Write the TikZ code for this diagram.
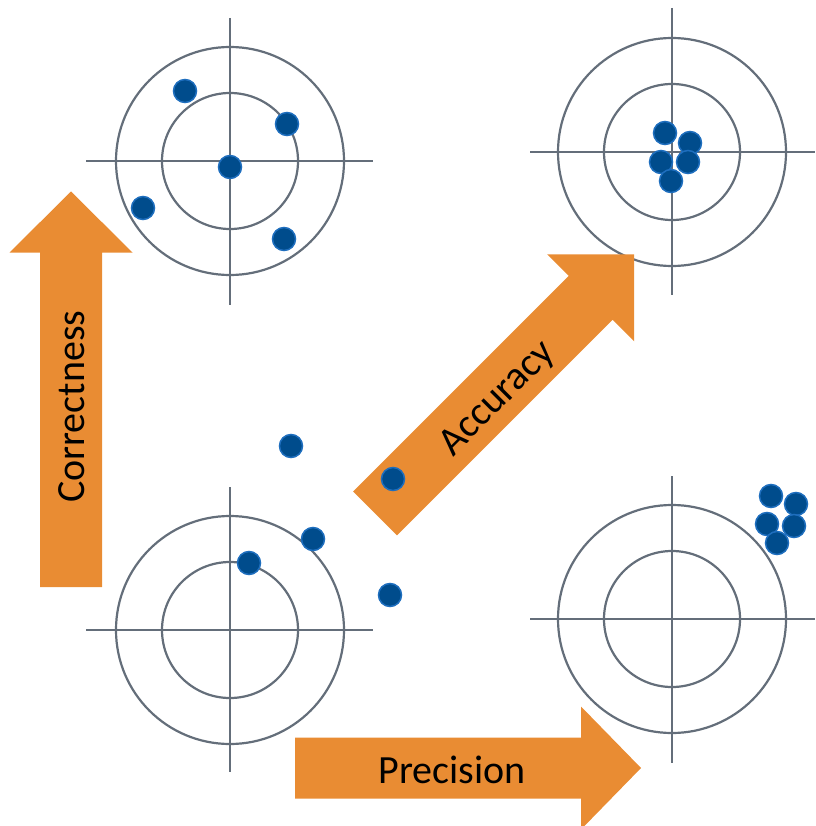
\documentclass[tikz,border=0pt]{standalone}
\usepackage{fontspec}
\setmainfont{Carlito}
\definecolor{arr}{RGB}{233,140,51}
\definecolor{dotfill}{RGB}{0,76,140}
\definecolor{dotedge}{RGB}{30,110,190}
\definecolor{ring}{RGB}{100,110,122}
\begin{document}
\begin{tikzpicture}[x=1pt,y=-1pt,
  ringline/.style={draw=ring, line width=2.2pt},
  hair/.style={draw=ring, line width=2.4pt},
  shot/.style={circle, fill=dotfill, draw=dotedge, line width=1.5pt, minimum size=23pt, inner sep=0pt},
  arrowbody/.style={fill=arr},
  lbl/.style={font=\fontsize{40}{48}\selectfont, text=black, inner sep=0pt}]
\useasboundingbox (0,0) rectangle (815,826);

% targets
\foreach \n/\cx/\cy/\hl/\hr/\vt/\vb in {tl/230/161/86/373/18/305, tr/672/152/530/815/8/295, bl/230/630/86/373/487/772, br/672/619/530/815/476/763}{
  \coordinate (\n-c) at (\cx,\cy);
  \coordinate (\n-l) at (\hl,\cy);
  \coordinate (\n-r) at (\hr,\cy);
  \coordinate (\n-t) at (\cx,\vt);
  \coordinate (\n-b) at (\cx,\vb);
  \draw[ringline] (\n-c) circle[radius=114];
  \draw[ringline] (\n-c) circle[radius=68];
  \draw[hair] (\n-l) -- (\n-r);
  \draw[hair] (\n-t) -- (\n-b);
}

% arrows
\fill[arrowbody] (40,587) -- (40,252.5) -- (9.5,252.5) -- (71,191.5) -- (132.5,252.5) -- (102,252.5) -- (102,587) -- cycle;
\node[lbl, rotate=90] (correctness) at (71.5,406.7) {Correctness};

\fill[arrowbody] (353.1,491.6) -- (396.9,535.4) -- (612.6,319.7) -- (634.2,341.3) -- (634.2,254.3) -- (547.2,254.3) -- (568.8,275.9) -- cycle;
\node[lbl, rotate=45] (accuracy) at (498,399) {Accuracy};

\fill[arrowbody] (295,737.5) -- (581,737.5) -- (581,706.5) -- (641,768) -- (581,829.5) -- (581,798.5) -- (295,798.5) -- cycle;
\node[lbl] (precision) at (452,770) {Precision};

% shots
\foreach \n/\x/\y in {a1/185/91, a2/287/124, a3/230/167, a4/143/208, a5/284/239,
  b1/665/133, b2/690/143, b3/661/162, b4/688/162, b5/671/181,
  c1/291/446, c2/393/479, c3/313/539, c4/249/563, c5/390/595,
  d1/771/496, d2/796/504, d3/767/524, d4/794/526, d5/777/543}{
  \node[shot] (\n) at (\x,\y) {};
}
\end{tikzpicture}
\end{document}
